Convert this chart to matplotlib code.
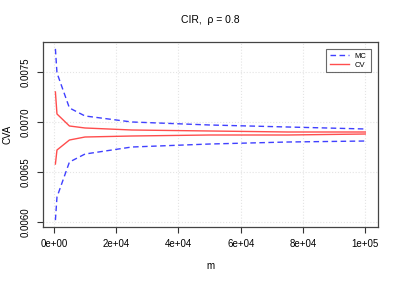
import matplotlib
matplotlib.use("Agg")
import matplotlib.pyplot as plt
import numpy as np

m = [500, 1000, 5000, 10000, 25000, 50000, 75000, 100000]
mc_upper = [0.00773, 0.00749, 0.00714, 0.00706, 0.00700, 0.00697, 0.00695, 0.00693]
mc_lower = [0.00602, 0.00625, 0.00660, 0.00668, 0.00675, 0.00678, 0.00680, 0.00681]
cv_upper = [0.00730, 0.00708, 0.00696, 0.00694, 0.00692, 0.00691, 0.00690, 0.00690]
cv_lower = [0.00658, 0.00672, 0.00682, 0.00685, 0.00686, 0.00687, 0.00687, 0.00688]

xticks = [0, 20000, 40000, 60000, 80000, 100000]
xlabels = ["0e+00", "2e+04", "4e+04", "6e+04", "8e+04", "1e+05"]
yticks = [0.0060, 0.0065, 0.0070, 0.0075]
ylabels = ["0.0060", "0.0065", "0.0070", "0.0075"]

plt.rcParams['font.family'] = ['Liberation Sans', 'DejaVu Sans']

fig = plt.figure(figsize=(3.99, 2.81), dpi=100)
ax = fig.add_axes([0.1078, 0.1922, 0.8388, 0.6583])

blue = (0.25, 0.25, 1.0)
red = (1.0, 0.3, 0.3)
ax.plot(m, mc_upper, color=blue, lw=1.0, ls=(0, (4, 2.5)), label="MC")
ax.plot(m, mc_lower, color=blue, lw=1.0, ls=(0, (4, 2.5)))
ax.plot(m, cv_upper, color=red, lw=1.0, label="CV")
ax.plot(m, cv_lower, color=red, lw=1.0)

allv = mc_upper + mc_lower
ymin, ymax = min(allv), max(allv)
pad = (ymax - ymin) * 0.04
ax.set_ylim(ymin - pad, ymax + pad)
xpad = (max(m) - min(m)) * 0.04
ax.set_xlim(min(m) - xpad, max(m) + xpad)

ax.set_xticks(xticks)
ax.set_xticklabels(xlabels, fontsize=7)
ax.set_yticks(yticks)
ax.set_yticklabels(ylabels, fontsize=7, rotation=90, va="center")
ax.tick_params(direction="out", length=4, width=0.8, color="#333333", pad=5)
ax.grid(True, color="#e4e4e4", ls=":", lw=0.8)
for s in ax.spines.values():
    s.set_color("#444444")
    s.set_linewidth(0.9)

ax.set_xlabel("m", fontsize=7, labelpad=8)
ax.set_ylabel("CVA", fontsize=7, labelpad=6)
fig.text(0.527, 0.928, "CIR,  ρ = 0.8", ha="center", va="center", fontsize=7.5)

leg = ax.legend(loc="upper right", fontsize=5.5, frameon=True, fancybox=False,
                edgecolor="#444444", handlelength=2.5, borderpad=0.5,
                labelspacing=0.2, bbox_to_anchor=(0.99, 0.985))
leg.get_frame().set_linewidth(0.8)

plt.savefig("out.png", dpi=100)
plt.close()
